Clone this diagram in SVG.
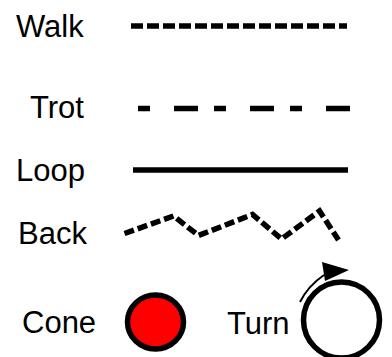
<svg xmlns="http://www.w3.org/2000/svg" width="392" height="357" viewBox="0 0 392 357">
<style>
text{font-family:"Liberation Sans",Arial,sans-serif;font-size:31px;fill:#000}
.ln{fill:none;stroke:#000;stroke-width:5.5}
</style>
<rect width="392" height="357" fill="#fff"/>
<g id="walk">
<text x="16" y="37">Walk</text>
</g>
<g id="trot">
<text x="30" y="118">Trot</text>
</g>
<g id="loop">
<text x="16" y="181">Loop</text>
</g>
<g id="back">
<text x="18" y="244">Back</text>
</g>
<g id="cone">
<text x="22" y="333">Cone</text>
<ellipse cx="155.5" cy="322" rx="28" ry="27" fill="#ff0000" stroke="#000" stroke-width="5.5"/>
</g>
<g id="turn">
<text x="227" y="334">Turn</text>
<circle cx="341.5" cy="320" r="38" fill="none" stroke="#000" stroke-width="5.5"/>
<path d="M300,302 Q308,286 324,275" fill="none" stroke="#000" stroke-width="2"/>
<polygon points="322,262 325,281 349,270" fill="#000"/>
</g>
<g id="connectors">
<line class="ln" x1="131" y1="26" x2="347" y2="26" stroke-dasharray="12 4"/>
<line class="ln" x1="138" y1="108.5" x2="350" y2="108.5" stroke-dasharray="12 24 24 16"/>
<line class="ln" x1="133" y1="170" x2="348" y2="170"/>
<polyline class="ln" stroke-width="4.5" stroke-dasharray="10 4" points="124.5,233.5 173.5,216 198.5,235.5 252.5,214.5 281.5,239 319.5,211 338.5,240"/>
</g>
</svg>
